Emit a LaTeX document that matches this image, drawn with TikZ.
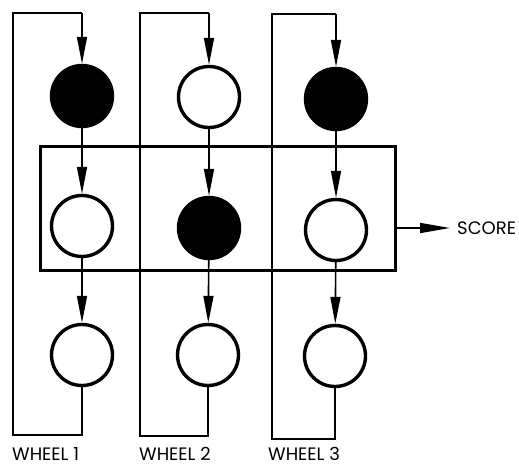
\documentclass[tikz,border=0pt]{standalone}
\usepackage{fontspec}
\setmainfont{Poppins}
\usetikzlibrary{arrows.meta}
\tikzset{
  wheel/.style={circle,draw,line width=3.4pt,minimum size=61pt,inner sep=0pt},
  blk/.style={wheel,fill=black},
  wht/.style={wheel,fill=white},
  conn/.style={line width=1.6pt,-{Triangle[length=27pt,width=10pt]}},
  loopline/.style={line width=1.4pt},
  lbl/.style={font=\fontsize{18pt}{18pt}\selectfont,inner sep=0pt,anchor=base west},
}
\begin{document}
\begin{tikzpicture}[x=1pt,y=-1pt]
\useasboundingbox (0,0) rectangle (519,465);
% score box
\node[draw,line width=3pt,minimum width=355pt,minimum height=123pt,inner sep=0pt] (box) at (217.5,208.5) {};
% wheel 1
\node[blk] (a1) at (82,96) {};
\node[wht] (a2) at (82,226) {};
\node[wht] (a3) at (82,355) {};
% wheel 2
\node[wht] (b1) at (209,97) {};
\node[blk] (b2) at (209,228) {};
\node[wht] (b3) at (208,355) {};
% wheel 3
\node[blk] (c1) at (336,99) {};
\node[wht] (c2) at (336,230) {};
\node[wht] (c3) at (335,356) {};
% loops
\coordinate (a1t) at (82,13); \coordinate (a3b) at (82,435);
\coordinate (b1t) at (209,13); \coordinate (b3b) at (208,436);
\coordinate (c1t) at (336,14); \coordinate (c3b) at (335,439);
\draw[loopline] (a3) -- (a3b) -- (13,435) -- (13,13) -- (a1t);
\draw[conn] (a1t) -- (a1);
\draw[loopline] (b3) -- (b3b) -- (140,436) -- (140,13) -- (b1t);
\draw[conn] (b1t) -- (b1);
\draw[loopline] (c3) -- (c3b) -- (272,439) -- (272,14) -- (c1t);
\draw[conn] (c1t) -- (c1);
% column arrows
\draw[conn] (a1) -- (a2);
\draw[conn] (a2) -- (a3);
\draw[conn] (b1) -- (b2);
\draw[conn] (b2) -- (b3);
\draw[conn] (c1) -- (c2);
\draw[conn] (c2) -- (c3);
% score
\node[lbl,anchor=west] (score) at (457,228) {SCORE};
\draw[line width=1.6pt,-{Triangle[length=30pt,width=10pt]}] (box.east |- score.west) -- ([xshift=-7pt]score.west);
% labels
\node[lbl] (w1) at (12,460) {WHEEL 1};
\node[lbl] (w2) at (139,460) {WHEEL 2};
\node[lbl] (w3) at (268,460) {WHEEL 3};
\end{tikzpicture}
\end{document}
